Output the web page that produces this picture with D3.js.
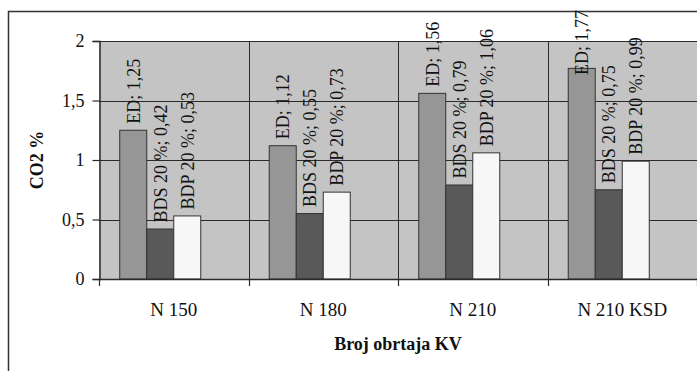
<!DOCTYPE html>
<html>
<head>
<meta charset="utf-8">
<script src="https://cdn.jsdelivr.net/npm/d3@7"></script>
<style>
  html, body { margin: 0; padding: 0; background: #ffffff; }
  svg { display: block; }
  text { font-family: "Liberation Serif", "Times New Roman", serif; fill: #111; }
</style>
</head>
<body>
<svg id="chart" width="697" height="371"></svg>
<script>
// ---- data ----
const categories = ["N 150", "N 180", "N 210", "N 210 KSD"];
const seriesNames = ["ED", "BDS 20 %", "BDP 20 %"];
const edValues  = [1.25, 1.12, 1.56, 1.77];
const bdsValues = [0.42, 0.55, 0.79, 0.75];
const bdpValues = [0.53, 0.73, 1.06, 0.99];
const yTickValues = [0, 0.5, 1, 1.5, 2];
const yTitle = "CO2 %";
const xTitle = "Broj obrtaja KV";

// ---- layout ----
const W = 697, H = 371;
const plot = { left: 99, right: 697, top: 41, bottom: 279 };
const seriesColors = ["#969696", "#595959", "#f7f7f7"];
const allValues = [edValues, bdsValues, bdpValues];

const svg = d3.select("#chart");
const fmt = v => d3.format(".2f")(v).replace(".", ",");
const tickFmt = v => String(v).replace(".", ",");

// outer chart border (extends past window on right/bottom)
svg.append("rect")
  .attr("x", 8.5).attr("y", 11.5)
  .attr("width", W + 20).attr("height", H + 20)
  .attr("fill", "#fff").attr("stroke", "#333").attr("stroke-width", 1.5);

const x = d3.scaleBand().domain(categories).range([plot.left, plot.right]).padding(0);
const x1 = d3.scaleBand().domain([0, 1, 2, 3]).range([0, x.bandwidth()])
  .paddingInner(0).paddingOuter(0.768);
const y = d3.scaleLinear().domain([0, 2]).range([plot.bottom, plot.top]);

// plot background
svg.append("rect")
  .attr("x", plot.left).attr("y", plot.top)
  .attr("width", plot.right - plot.left).attr("height", plot.bottom - plot.top)
  .attr("fill", "#c4c4c4");

// horizontal gridlines
svg.append("g").selectAll("line").data(yTickValues.filter(v => v > 0)).join("line")
  .attr("x1", plot.left).attr("x2", plot.right)
  .attr("y1", d => Math.round(y(d)) + 0.5).attr("y2", d => Math.round(y(d)) + 0.5)
  .attr("stroke", "#2a2a2a").attr("stroke-width", 1);

// vertical category separators
const sepX = categories.slice(1).map(c => x(c));
svg.append("g").selectAll("line").data(sepX).join("line")
  .attr("x1", d => Math.round(d) + 0.5).attr("x2", d => Math.round(d) + 0.5)
  .attr("y1", plot.top).attr("y2", plot.bottom)
  .attr("stroke", "#2a2a2a").attr("stroke-width", 1);

// bars
const barData = [];
categories.forEach((c, ci) => {
  seriesNames.forEach((s, si) => {
    barData.push({ cat: c, si, name: s, value: allValues[si][ci] });
  });
});

svg.append("g").selectAll("rect").data(barData).join("rect")
  .attr("x", d => x(d.cat) + x1(d.si))
  .attr("y", d => y(d.value))
  .attr("width", x1.bandwidth())
  .attr("height", d => y(0) - y(d.value))
  .attr("fill", d => seriesColors[d.si])
  .attr("stroke", "#333").attr("stroke-width", 1);

// y axis
const yAxis = d3.axisLeft(y).tickValues(yTickValues).tickFormat(tickFmt).tickSize(7).tickPadding(8);
const gy = svg.append("g").attr("transform", `translate(${plot.left + 0.5},0)`).call(yAxis);
gy.select(".domain").attr("stroke", "#2a2a2a").attr("stroke-width", 1.5);
gy.selectAll(".tick line").attr("stroke", "#2a2a2a").attr("stroke-width", 1.2);
gy.selectAll(".tick text").attr("font-size", 18)
  .attr("font-family", "Liberation Serif, serif").attr("fill", "#111");

// x axis line & ticks at category boundaries
svg.append("line")
  .attr("x1", plot.left).attr("x2", plot.right)
  .attr("y1", plot.bottom + 0.5).attr("y2", plot.bottom + 0.5)
  .attr("stroke", "#2a2a2a").attr("stroke-width", 1.5);
const xTickPos = categories.map(c => x(c)).concat([plot.right]);
svg.append("g").selectAll("line").data(xTickPos).join("line")
  .attr("x1", d => Math.round(d) + 0.5).attr("x2", d => Math.round(d) + 0.5)
  .attr("y1", plot.bottom).attr("y2", plot.bottom + 7)
  .attr("stroke", "#2a2a2a").attr("stroke-width", 1.2);

// x category labels
svg.append("g").selectAll("text").data(categories).join("text")
  .attr("x", d => x(d) + x.bandwidth() / 2)
  .attr("y", 316)
  .attr("text-anchor", "middle")
  .attr("font-size", 19)
  .text(d => d);

// axis titles
svg.append("text")
  .attr("x", (plot.left + plot.right) / 2).attr("y", 350)
  .attr("text-anchor", "middle").attr("font-size", 18).attr("font-weight", "bold")
  .text(xTitle);

svg.append("text")
  .attr("transform", `translate(43,${(plot.top + plot.bottom) / 2}) rotate(-90)`)
  .attr("text-anchor", "middle").attr("font-size", 18).attr("font-weight", "bold")
  .text(yTitle);

// data labels (rotated), kept inside the chart area
const chartTop = 10;
const labels = svg.append("g").selectAll("text").data(barData).join("text")
  .attr("font-size", 18)
  .attr("text-anchor", "start")
  .attr("dy", "0.35em")
  .text(d => `${d.name}; ${fmt(d.value)}`);
labels.each(function(d) {
  const len = this.getComputedTextLength();
  const cx = x(d.cat) + x1(d.si) + x1.bandwidth() / 2;
  let start = y(d.value) - 6.5;
  if (start - len < chartTop) start = chartTop + len;
  d3.select(this).attr("transform", `translate(${cx},${start}) rotate(-90)`);
});
</script>
</body>
</html>
